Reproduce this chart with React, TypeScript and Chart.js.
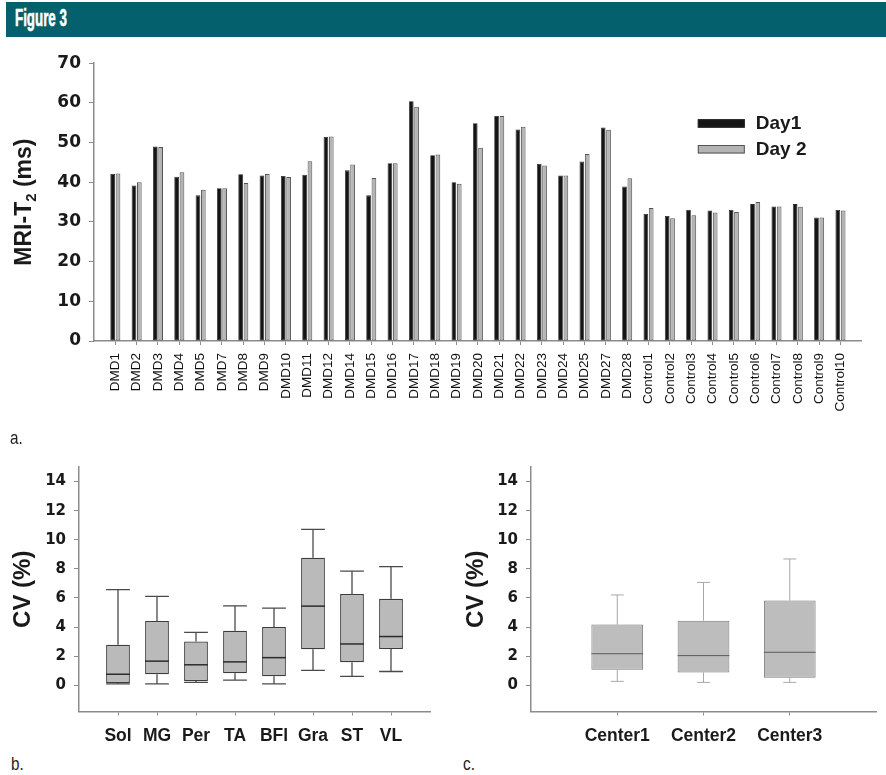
import React, { useEffect, useRef } from 'react';
import { Chart, registerables } from 'chart.js';

Chart.register(...registerables);

// ---------- Panel a: MRI-T2 per subject on two scan days ----------
const subjects = [
  'DMD1', 'DMD2', 'DMD3', 'DMD4', 'DMD5', 'DMD7', 'DMD8', 'DMD9', 'DMD10', 'DMD11',
  'DMD12', 'DMD14', 'DMD15', 'DMD16', 'DMD17', 'DMD18', 'DMD19', 'DMD20', 'DMD21', 'DMD22',
  'DMD23', 'DMD24', 'DMD25', 'DMD27', 'DMD28',
  'Control1', 'Control2', 'Control3', 'Control4', 'Control5',
  'Control6', 'Control7', 'Control8', 'Control9', 'Control10',
];
const day1T2 = [
  42.1, 39.2, 49.0, 41.4, 36.7, 38.5, 42.0, 41.7, 41.6, 41.9,
  51.4, 43.0, 36.7, 44.8, 60.4, 46.8, 40.0, 54.9, 56.7, 53.3,
  44.6, 41.7, 45.2, 53.8, 38.9,
  32.0, 31.5, 33.1, 32.9, 33.0, 34.5, 33.9, 34.5, 31.1, 33.0,
];
const day2T2 = [
  42.2, 40.0, 48.9, 42.5, 38.1, 38.5, 39.8, 42.1, 41.3, 45.3,
  51.5, 44.5, 41.1, 44.8, 59.0, 47.0, 39.6, 48.7, 56.7, 54.0,
  44.2, 41.7, 47.1, 53.2, 41.0,
  33.5, 30.9, 31.7, 32.4, 32.5, 35.0, 33.9, 33.8, 31.1, 32.9,
];
const t2Ticks = [0, 10, 20, 30, 40, 50, 60, 70];

// ---------- Panel b: CV per muscle ----------
const muscles = ['Sol', 'MG', 'Per', 'TA', 'BFl', 'Gra', 'ST', 'VL'];
const muscleMin = [0.1, 0.1, 0.2, 0.35, 0.1, 1.02, 0.62, 0.95];
const muscleQ1 = [0.15, 0.76, 0.3, 0.82, 0.62, 2.47, 1.59, 2.49];
const muscleMedian = [0.76, 1.66, 1.41, 1.61, 1.9, 5.44, 2.84, 3.35];
const muscleQ3 = [2.79, 4.42, 3.01, 3.75, 4.01, 8.77, 6.28, 5.94];
const muscleMax = [6.58, 6.11, 3.63, 5.46, 5.3, 10.72, 7.84, 8.16];

// ---------- Panel c: CV per center ----------
const centers = ['Center1', 'Center2', 'Center3'];
const centerMin = [0.27, 0.2, 0.2];
const centerQ1 = [1.07, 0.88, 0.52];
const centerMedian = [2.17, 2.04, 2.27];
const centerQ3 = [4.17, 4.44, 5.82];
const centerMax = [6.21, 7.07, 8.68];

const cvTicks = [0, 2, 4, 6, 8, 10, 12, 14];

const SANS = '"Liberation Sans", Arial, Helvetica, sans-serif';
const WIDE = '"DejaVu Sans", Verdana, sans-serif';
const INK = '#1a1a1a';
const AXIS = '#8c8c8c';

// One empty slot at each end keeps every category a full slot away from the axis ends.
function padded<T>(arr: T[], blank: T): T[] {
  return [blank, ...arr, blank];
}

// Tick marks are hidden on the empty end slots.
function edgeTickColor(count: number) {
  return (ctx: any) => (ctx.index === 0 || ctx.index === count - 1 ? 'rgba(0,0,0,0)' : AXIS);
}

// Y-axis title with a subscript: MRI-T2 (ms)
const t2AxisTitle = {
  id: 't2AxisTitle',
  afterDraw(chart: any) {
    const { ctx, chartArea } = chart;
    const cy = (chartArea.top + chartArea.bottom) / 2;
    const main = `bold 23px ${SANS}`;
    const sub = `bold 15px ${SANS}`;
    ctx.save();
    ctx.font = main;
    const w1 = ctx.measureText('MRI-T').width;
    const w3 = ctx.measureText(' (ms)').width;
    ctx.font = sub;
    const w2 = ctx.measureText('2').width;
    const total = w1 + w2 + w3;
    ctx.translate(23, cy);
    ctx.rotate(-Math.PI / 2);
    ctx.fillStyle = INK;
    ctx.textBaseline = 'alphabetic';
    ctx.textAlign = 'left';
    const base = 8;
    let x = -total / 2;
    ctx.font = main;
    ctx.fillText('MRI-T', x, base);
    x += w1;
    ctx.font = sub;
    ctx.fillText('2', x, base + 5);
    x += w2;
    ctx.font = main;
    ctx.fillText(' (ms)', x, base);
    ctx.restore();
  },
};

// Legend drawn from the dataset labels and colours.
const dayLegend = {
  id: 'dayLegend',
  afterDraw(chart: any) {
    const { ctx, chartArea } = chart;
    const x = chartArea.right - 164;
    const y = chartArea.top + 56;
    ctx.save();
    ctx.font = `bold 19px ${SANS}`;
    ctx.textBaseline = 'middle';
    ctx.textAlign = 'left';
    chart.data.datasets.forEach((ds: any, i: number) => {
      const top = y + i * 25.8;
      ctx.fillStyle = ds.backgroundColor;
      ctx.fillRect(x, top, 47, 8.5);
      ctx.strokeStyle = ds.borderColor;
      ctx.lineWidth = 1;
      ctx.strokeRect(x + 0.5, top + 0.5, 46, 7.5);
      ctx.fillStyle = INK;
      ctx.fillText(ds.label, x + 58, top + 5);
    });
    ctx.restore();
  },
};

function barConfig(): any {
  const labels = padded(subjects, '');
  return {
    type: 'bar',
    data: {
      labels,
      datasets: [
        {
          label: 'Day1',
          data: padded<number | null>(day1T2, null),
          backgroundColor: '#151515',
          borderColor: '#2a2a2a',
          borderWidth: 0.8,
          borderSkipped: false,
        },
        {
          label: 'Day 2',
          data: padded<number | null>(day2T2, null),
          backgroundColor: '#b4b4b4',
          borderColor: '#555555',
          borderWidth: 1,
          borderSkipped: false,
        },
      ],
    },
    options: {
      responsive: false,
      animation: false,
      layout: { padding: { top: 17, right: 2, left: 0, bottom: 0 } },
      datasets: { bar: { categoryPercentage: 0.5, barPercentage: 0.88 } },
      plugins: { legend: { display: false }, tooltip: { enabled: false } },
      scales: {
        x: {
          offset: false,
          grid: {
            offset: false,
            drawOnChartArea: false,
            drawTicks: true,
            tickLength: 4,
            tickWidth: 1,
            tickColor: edgeTickColor(labels.length),
          },
          border: { color: AXIS, width: 1.5 },
          ticks: {
            autoSkip: false,
            minRotation: 90,
            maxRotation: 90,
            padding: 8,
            color: '#111',
            font: { family: SANS, size: 13.5 },
          },
          afterFit: (s: any) => {
            s.height = 89;
          },
        },
        y: {
          min: 0,
          max: 70,
          afterBuildTicks: (s: any) => {
            s.ticks = t2Ticks.map((v) => ({ value: v }));
          },
          grid: { drawOnChartArea: false, tickLength: 5, tickWidth: 1, tickColor: AXIS },
          border: { color: AXIS, width: 1.5 },
          ticks: { padding: 8, color: INK, font: { family: WIDE, weight: 'bold', size: 17 } },
          afterFit: (s: any) => {
            s.width = 94;
          },
        },
      },
    },
    plugins: [t2AxisTitle, dayLegend],
  };
}

type BoxStats = { min: number[]; q1: number[]; median: number[]; q3: number[]; max: number[] };
type BoxLook = {
  fill: string;
  border: string;
  borderWidth: number;
  whisker: string;
  whiskerWidth: number;
  capRatio: number;
  median: string;
  medianWidth: number;
  boxRatio: number;
};

// Whiskers go under the boxes, medians over them; all positions come from the chart's scales.
function boxPlotPlugin(stats: BoxStats, look: BoxLook) {
  const each = (chart: any, fn: (x: number, w: number, i: number) => void) => {
    const meta = chart.getDatasetMeta(0);
    stats.median.forEach((_, i) => {
      const el = meta.data[i + 1];
      if (!el) return;
      const { x, width } = el.getProps(['x', 'width'], true);
      fn(x, width, i);
    });
  };
  return {
    id: 'boxPlot',
    beforeDatasetsDraw(chart: any) {
      const { ctx } = chart;
      const y = chart.scales.y;
      ctx.save();
      ctx.strokeStyle = look.whisker;
      ctx.lineWidth = look.whiskerWidth;
      each(chart, (x, w, i) => {
        const cap = (w * look.capRatio) / 2;
        const pMax = y.getPixelForValue(stats.max[i]);
        const pQ3 = y.getPixelForValue(stats.q3[i]);
        const pQ1 = y.getPixelForValue(stats.q1[i]);
        const pMin = y.getPixelForValue(stats.min[i]);
        ctx.beginPath();
        ctx.moveTo(x, pQ3);
        ctx.lineTo(x, pMax);
        ctx.moveTo(x - cap, pMax);
        ctx.lineTo(x + cap, pMax);
        ctx.moveTo(x, pQ1);
        ctx.lineTo(x, pMin);
        ctx.moveTo(x - cap, pMin);
        ctx.lineTo(x + cap, pMin);
        ctx.stroke();
      });
      ctx.restore();
    },
    afterDatasetsDraw(chart: any) {
      const { ctx } = chart;
      const y = chart.scales.y;
      ctx.save();
      ctx.strokeStyle = look.median;
      ctx.lineWidth = look.medianWidth;
      each(chart, (x, w, i) => {
        const p = y.getPixelForValue(stats.median[i]);
        ctx.beginPath();
        ctx.moveTo(x - w / 2, p);
        ctx.lineTo(x + w / 2, p);
        ctx.stroke();
      });
      ctx.restore();
    },
  };
}

function boxConfig(
  names: string[],
  stats: BoxStats,
  look: BoxLook,
  axisWidth: number,
  padRight: number,
  titlePad: number
): any {
  const labels = padded(names, '');
  const boxes = names.map((_, i) => [stats.q1[i], stats.q3[i]]);
  return {
    type: 'bar',
    data: {
      labels,
      datasets: [
        {
          data: padded<number[] | null>(boxes, null),
          backgroundColor: look.fill,
          borderColor: look.border,
          borderWidth: look.borderWidth,
          borderSkipped: false,
          categoryPercentage: 1,
          barPercentage: look.boxRatio,
        },
      ],
    },
    options: {
      responsive: false,
      animation: false,
      layout: { padding: { top: 13, right: padRight, left: 0, bottom: 0 } },
      plugins: { legend: { display: false }, tooltip: { enabled: false } },
      scales: {
        x: {
          offset: false,
          grid: {
            offset: false,
            drawOnChartArea: false,
            tickLength: 4,
            tickWidth: 1,
            tickColor: edgeTickColor(labels.length),
          },
          border: { color: AXIS, width: 1.5 },
          ticks: {
            autoSkip: false,
            maxRotation: 0,
            padding: 10,
            color: INK,
            font: { family: SANS, weight: 'bold', size: 17.5 },
          },
          afterFit: (s: any) => {
            s.height = 38.5;
          },
        },
        y: {
          min: -1.8,
          max: 15,
          afterBuildTicks: (s: any) => {
            s.ticks = cvTicks.map((v) => ({ value: v }));
          },
          grid: { drawOnChartArea: false, tickLength: 5, tickWidth: 1, tickColor: AXIS },
          border: { color: AXIS, width: 1.5 },
          ticks: { padding: 8, color: INK, font: { family: WIDE, weight: 'bold', size: 15 } },
          title: {
            display: true,
            text: 'CV (%)',
            color: INK,
            padding: { top: titlePad, bottom: 0 },
            font: { family: SANS, weight: 'bold', size: 24 },
          },
          afterFit: (s: any) => {
            s.width = axisWidth;
          },
        },
      },
    },
    plugins: [boxPlotPlugin(stats, look)],
  };
}

function ChartCanvas(props: { left: number; top: number; width: number; height: number; build: () => any }) {
  const ref = useRef<HTMLCanvasElement>(null);
  useEffect(() => {
    const chart = new Chart(ref.current as HTMLCanvasElement, props.build());
    return () => chart.destroy();
  }, []);
  return (
    <canvas
      ref={ref}
      width={props.width}
      height={props.height}
      style={{
        position: 'absolute',
        left: props.left,
        top: props.top,
        width: props.width,
        height: props.height,
      }}
    />
  );
}

function PanelLabel(props: { left: number; top: number; text: string }) {
  return (
    <span
      style={{
        position: 'absolute',
        left: props.left,
        top: props.top,
        font: `18px ${SANS}`,
        lineHeight: '18px',
        color: '#222',
        transform: 'scaleX(0.85)',
        transformOrigin: 'left top',
        whiteSpace: 'nowrap',
      }}
    >
      {props.text}
    </span>
  );
}

const muscleStats: BoxStats = { min: muscleMin, q1: muscleQ1, median: muscleMedian, q3: muscleQ3, max: muscleMax };
const centerStats: BoxStats = { min: centerMin, q1: centerQ1, median: centerMedian, q3: centerQ3, max: centerMax };

const muscleLook: BoxLook = {
  fill: '#bababa',
  border: '#3c3c3c',
  borderWidth: 1.3,
  whisker: '#4a4a4a',
  whiskerWidth: 1.3,
  capRatio: 1,
  median: '#2c2c2c',
  medianWidth: 1.5,
  boxRatio: 0.61,
};

const centerLook: BoxLook = {
  fill: '#bdbdbd',
  border: '#7a7a7a',
  borderWidth: 1,
  whisker: '#a8a8a8',
  whiskerWidth: 1,
  capRatio: 0.25,
  median: '#5a5a5a',
  medianWidth: 1,
  boxRatio: 0.6,
};

export default function App() {
  return (
    <div
      style={{
        position: 'absolute',
        left: 0,
        top: 0,
        width: 886,
        height: 775,
        background: '#ffffff',
        overflow: 'hidden',
      }}
    >
      <div style={{ position: 'absolute', left: 6, top: 2, width: 880, height: 35, background: '#03606c' }}>
        <span
          style={{
            position: 'absolute',
            left: 9,
            top: 5,
            font: `bold 23px ${SANS}`,
            lineHeight: '23px',
            color: '#ffffff',
            WebkitTextStroke: '0.6px #ffffff',
            transform: 'scaleX(0.58)',
            transformOrigin: 'left top',
            whiteSpace: 'nowrap',
          }}
        >
          Figure 3
        </span>
      </div>

      <ChartCanvas left={0} top={45} width={886} height={385} build={barConfig} />
      <PanelLabel left={10} top={429} text="a." />

      <ChartCanvas
        left={0}
        top={450}
        width={440}
        height={300}
        build={() => boxConfig(muscles, muscleStats, muscleLook, 79, 7, 9)}
      />
      <PanelLabel left={11} top={755} text="b." />

      <ChartCanvas
        left={440}
        top={450}
        width={446}
        height={300}
        build={() => boxConfig(centers, centerStats, centerLook, 91, 0, 21.6)}
      />
      <PanelLabel left={463} top={755} text="c." />
    </div>
  );
}
